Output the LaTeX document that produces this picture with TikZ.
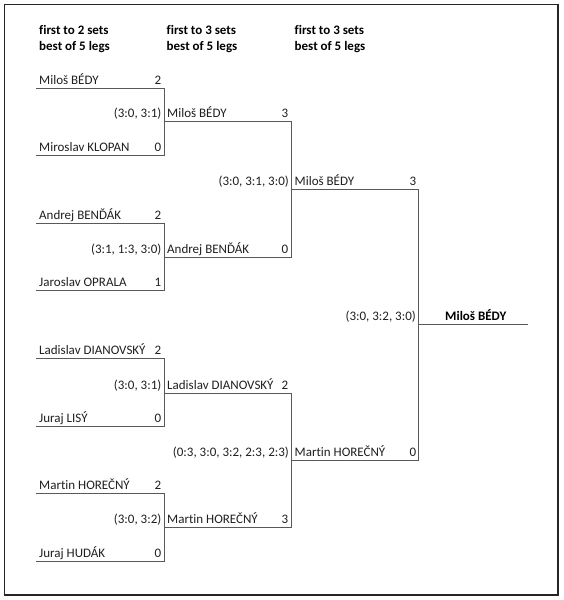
\documentclass[tikz,border=0pt]{standalone}
\usepackage{fontspec}
\setmainfont[Ligatures={NoCommon}]{Carlito}
\begin{document}
\begin{tikzpicture}[x=1pt,y=-1pt,
  every node/.style={font=\fontsize{13}{15}\selectfont, text=black!88, inner sep=0pt},
  nm/.style={anchor=base west},
  sc/.style={anchor=base east},
  hd/.style={anchor=base west, font=\fontsize{13}{15}\selectfont\bfseries, text=black},
  br/.style={draw=black!65, line width=0.9pt},
]
\useasboundingbox (0,0) rectangle (563,600);
\draw[line width=1.6pt, black!85] (4.5,4.5) rectangle (558,595);

% headers
\node[hd] (h1a) at (39,34) {first to 2 sets};
\node[hd] (h1b) at (39,50.5) {best of 5 legs};
\node[hd] (h2a) at (166.5,34) {first to 3 sets};
\node[hd] (h2b) at (166.5,50.5) {best of 5 legs};
\node[hd] (h3a) at (294.5,34) {first to 3 sets};
\node[hd] (h3b) at (294.5,50.5) {best of 5 legs};

% round 1 line coordinates
\foreach \n/\y in {p1/88,p2/155,p3/223,p4/290,p5/358,p6/426,p7/493,p8/561}{
  \coordinate (\n s) at (36,\y);
  \coordinate (\n e) at (164,\y);
}
\foreach \n/\y in {q1/121,q2/257,q3/393,q4/527}{
  \coordinate (\n s) at (164,\y);
  \coordinate (\n e) at (291,\y);
}
\foreach \n/\y in {r1/189,r2/460}{
  \coordinate (\n s) at (291,\y);
  \coordinate (\n e) at (418,\y);
}
\coordinate (fs) at (418,324);
\coordinate (fe) at (528,324);

% round 1 lines and brackets
\draw[br] (p1s) -- (p1e) -- (p2e) -- (p2s);
\draw[br] (p3s) -- (p3e) -- (p4e) -- (p4s);
\draw[br] (p5s) -- (p5e) -- (p6e) -- (p6s);
\draw[br] (p7s) -- (p7e) -- (p8e) -- (p8s);
% round 2
\draw[br] (q1s) -- (q1e) -- (q2e) -- (q2s);
\draw[br] (q3s) -- (q3e) -- (q4e) -- (q4s);
% round 3
\draw[br] (r1s) -- (r1e) -- (r2e) -- (r2s);
% final
\draw[br] (fs) -- (fe);

% round 1 names and scores
\node[nm] (n1) at (39,84.5) {Miloš BÉDY};             \node[sc] (s1) at (161.5,84.5) {2};
\node[nm] (n2) at (39,151.5) {Miroslav KLOPAN};       \node[sc] (s2) at (161.5,151.5) {0};
\node[nm] (n3) at (39,219.5) {Andrej BENĎÁK};         \node[sc] (s3) at (161.5,219.5) {2};
\node[nm] (n4) at (39,286.5) {Jaroslav OPRALA};       \node[sc] (s4) at (161.5,286.5) {1};
\node[nm] (n5) at (39,354.5) {Ladislav DIANOVSKÝ};    \node[sc] (s5) at (161.5,354.5) {2};
\node[nm] (n6) at (39,422.5) {Juraj LISÝ};            \node[sc] (s6) at (161.5,422.5) {0};
\node[nm] (n7) at (39,489.5) {Martin HOREČNÝ};        \node[sc] (s7) at (161.5,489.5) {2};
\node[nm] (n8) at (39,557.5) {Juraj HUDÁK};           \node[sc] (s8) at (161.5,557.5) {0};

% round 1 set results
\node[sc] (m1) at (161.5,117.5) {(3:0, 3:1)};
\node[sc] (m2) at (161.5,253.5) {(3:1, 1:3, 3:0)};
\node[sc] (m3) at (161.5,389.5) {(3:0, 3:1)};
\node[sc] (m4) at (161.5,523.5) {(3:0, 3:2)};

% round 2 names and scores
\node[nm] (o1) at (167,117.5) {Miloš BÉDY};           \node[sc] (t1) at (288.5,117.5) {3};
\node[nm] (o2) at (167,253.5) {Andrej BENĎÁK};        \node[sc] (t2) at (288.5,253.5) {0};
\node[nm] (o3) at (167,389.5) {Ladislav DIANOVSKÝ};   \node[sc] (t3) at (288.5,389.5) {2};
\node[nm] (o4) at (167,523.5) {Martin HOREČNÝ};       \node[sc] (t4) at (288.5,523.5) {3};

% round 2 set results
\node[sc] (k1) at (289,185.5) {(3:0, 3:1, 3:0)};
\node[sc] (k2) at (289,456.5) {(0:3, 3:0, 3:2, 2:3, 2:3)};

% round 3 names and scores
\node[nm] (u1) at (294.5,185.5) {Miloš BÉDY};         \node[sc] (v1) at (416.5,185.5) {3};
\node[nm] (u2) at (294.5,456.5) {Martin HOREČNÝ};     \node[sc] (v2) at (416.5,456.5) {0};

% final
\node[sc] (k3) at (416,320.5) {(3:0, 3:2, 3:0)};
\node[nm, font=\fontsize{13}{15}\selectfont\bfseries, text=black] (w) at (445,320.5) {Miloš BÉDY};
\end{tikzpicture}
\end{document}
